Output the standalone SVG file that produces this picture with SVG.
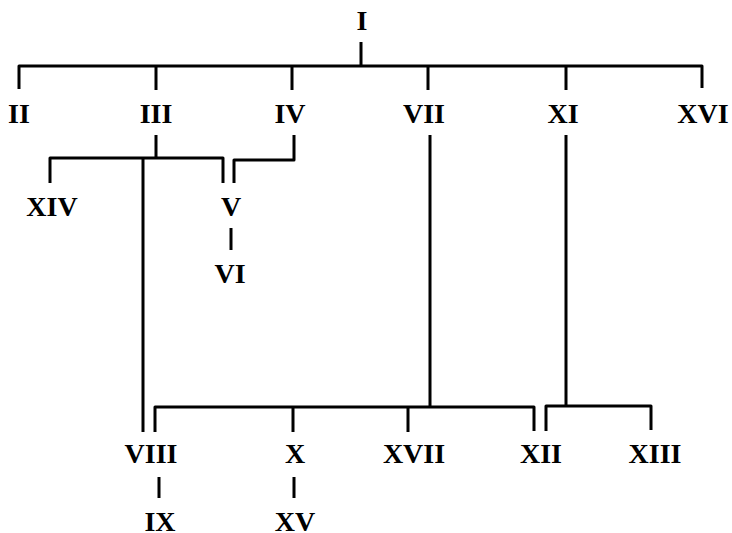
<svg xmlns="http://www.w3.org/2000/svg" width="732" height="533" viewBox="0 0 732 533">
<style>
.c{fill:none;stroke:#000;stroke-width:3;stroke-linejoin:round;stroke-linecap:butt}
text{font-family:"Liberation Serif","Times New Roman",serif;font-size:28px;font-weight:bold;fill:#000;text-anchor:middle}
</style>
<rect width="732" height="533" fill="#fff"/>
<g id="connectors" class="c">
<path d="M361 42V66M19 89V66H702V88M156 66V90M292 66V90M428 66V90M566 66V90"/>
<path d="M156 135V158M50 183V158H223V183M143 158V432"/>
<path d="M294 135V160H234V183"/>
<path d="M231 228V250"/>
<path d="M430 135V407M155 432V407H534V431M293 407V432M408 407V432"/>
<path d="M566 135V406M546 431V406H651V430"/>
<path d="M159 477V498M294 477V498"/>
</g>
<g id="nI"><text x="362" y="30">I</text></g>
<g id="nII"><text x="19" y="123">II</text></g>
<g id="nIII"><text x="156" y="123">III</text></g>
<g id="nIV"><text x="290" y="123">IV</text></g>
<g id="nVII"><text x="424" y="123">VII</text></g>
<g id="nXI"><text x="563" y="123">XI</text></g>
<g id="nXVI"><text x="703" y="123">XVI</text></g>
<g id="nXIV"><text x="52" y="216">XIV</text></g>
<g id="nV"><text x="231" y="216">V</text></g>
<g id="nVI"><text x="230" y="283">VI</text></g>
<g id="nVIII"><text x="151" y="463">VIII</text></g>
<g id="nX"><text x="295" y="463">X</text></g>
<g id="nXVII"><text x="414" y="463">XVII</text></g>
<g id="nXII"><text x="541" y="463">XII</text></g>
<g id="nXIII"><text x="655" y="463">XIII</text></g>
<g id="nIX"><text x="160" y="531">IX</text></g>
<g id="nXV"><text x="295" y="531">XV</text></g>
</svg>
